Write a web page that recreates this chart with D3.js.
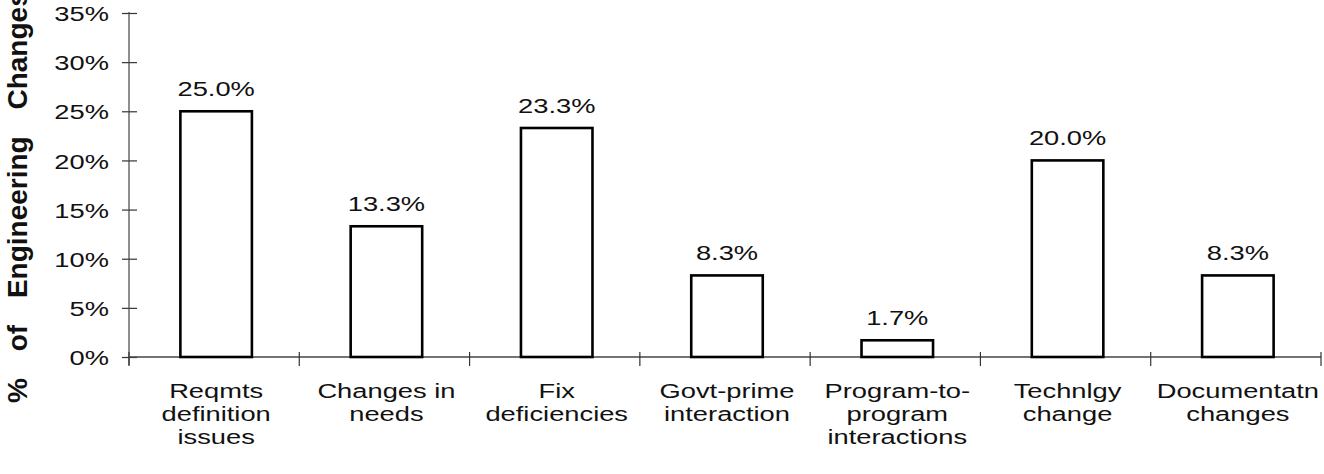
<!DOCTYPE html>
<html><head><meta charset="utf-8">
<script src="https://cdn.jsdelivr.net/npm/d3@7"></script>
<style>body{margin:0;background:#fff}svg{display:block}</style>
</head><body>
<svg id="c" width="1324" height="474"></svg>
<script>
const categories = ["Reqmts\ndefinition\nissues", "Changes in\nneeds", "Fix\ndeficiencies", "Govt-prime\ninteraction", "Program-to-\nprogram\ninteractions", "Technlgy\nchange", "Documentatn\nchanges"];
const values = [25.0, 13.3, 23.3, 8.3, 1.7, 20.0, 8.3];
const yTicks = [0, 5, 10, 15, 20, 25, 30, 35];
const yTitle = "% of Engineering Changes";

(function () {
const svg = d3.select("#c");
const FONT = "'Liberation Sans', Arial, Helvetica, sans-serif";
const SX = 1.3;
const mLeft = 129, mRight = 1321, mTop = 13, mBottom = 357;

const x = d3.scaleBand().domain(categories).range([mLeft, mRight]).padding(0);
const y = d3.scaleLinear().domain([0, 35]).range([mBottom, mTop]);

// Y axis
const yAxis = d3.axisLeft(y).tickValues(yTicks).tickFormat(d => d + "%").tickSize(7).tickPadding(0);
const gy = svg.append("g").attr("transform", `translate(${mLeft},0)`).call(yAxis);
gy.select(".domain").remove();
gy.selectAll(".tick line").attr("x1", 8).attr("x2", -7).attr("stroke", "#333").attr("stroke-width", 1.2);
gy.selectAll(".tick text")
  .attr("x", 0).attr("dy", "0.36em")
  .attr("transform", `translate(-20,0) scale(${SX},1)`)
  .attr("font-family", FONT).attr("font-size", 21).attr("fill", "#111").attr("text-anchor", "end");
svg.append("line").attr("x1", mLeft).attr("x2", mLeft).attr("y1", y(35) - 1).attr("y2", mBottom + 8)
  .attr("stroke", "#444").attr("stroke-width", 1.2);

// X axis line + boundary ticks
svg.append("line").attr("x1", mLeft).attr("x2", mRight).attr("y1", mBottom).attr("y2", mBottom)
  .attr("stroke", "#444").attr("stroke-width", 1.3);
const bounds = d3.range(categories.length + 1).map(i => x.range()[0] + i * x.step());
svg.selectAll("line.xt").data(bounds).enter().append("line").attr("class", "xt")
  .attr("x1", d => d).attr("x2", d => d).attr("y1", mBottom - 5).attr("y2", mBottom + 9)
  .attr("stroke", "#333").attr("stroke-width", 1.2);

// Bars
const bw = x.bandwidth() * 0.42;
svg.selectAll("rect.bar").data(values).enter().append("rect").attr("class", "bar")
  .attr("x", (d, i) => x(categories[i]) + x.bandwidth() / 2 - bw / 2 + 2)
  .attr("width", bw)
  .attr("y", d => y(d))
  .attr("height", d => mBottom - y(d))
  .attr("fill", "#fff").attr("stroke", "#000").attr("stroke-width", 2.6);

// Value labels
svg.selectAll("text.val").data(values).enter().append("text").attr("class", "val")
  .attr("transform", (d, i) => `translate(${x(categories[i]) + x.bandwidth() / 2 + 2},${y(d) - 15}) scale(${SX},1)`)
  .attr("text-anchor", "middle").attr("font-family", FONT).attr("font-size", 21).attr("fill", "#111")
  .text(d => d.toFixed(1) + "%");

// Category labels
const cl = svg.selectAll("g.cat").data(categories).enter().append("g").attr("class", "cat")
  .attr("transform", d => `translate(${x(d) + x.bandwidth() / 2 + 2},398) scale(${SX},1)`);
cl.append("text").attr("text-anchor", "middle").attr("font-family", FONT).attr("font-size", 21).attr("fill", "#111")
  .selectAll("tspan").data(d => d.split("\n")).enter().append("tspan")
  .attr("x", 0).attr("y", (d, i) => i * 23).text(d => d);

// Y title
svg.append("text").attr("transform", "translate(27,403) rotate(-90)")
  .attr("font-family", FONT).attr("font-size", 28).attr("font-weight", "bold").attr("fill", "#111")
  .attr("word-spacing", 19)
  .text(yTitle);
})();
</script>
</body></html>
